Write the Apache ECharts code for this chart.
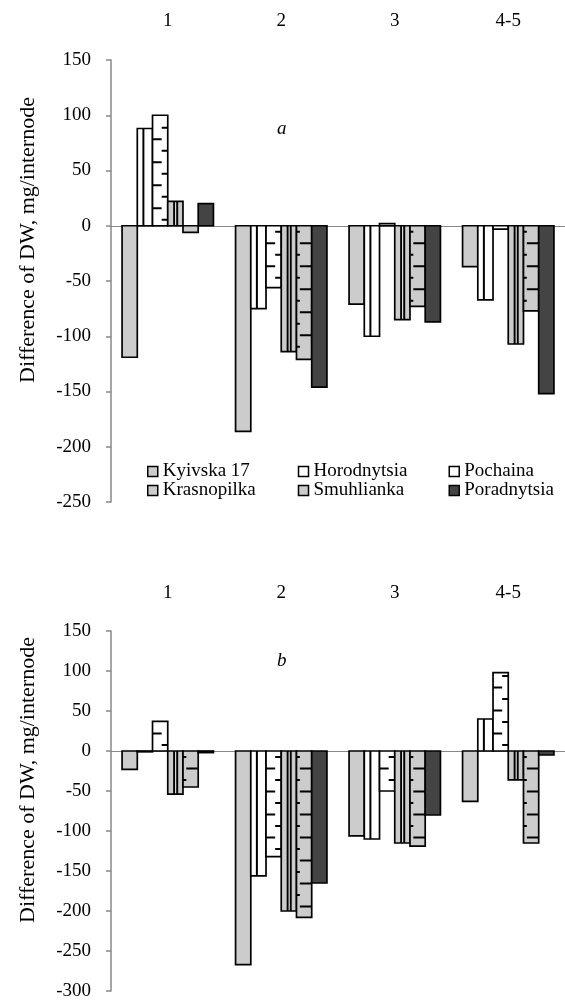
<!DOCTYPE html>
<html>
<head>
<meta charset="utf-8">
<script src="https://cdn.jsdelivr.net/npm/echarts@6/dist/echarts.min.js"></script>
<style>
html, body { margin: 0; padding: 0; background: #fff; }
#container { width: 565px; height: 1001px; }
</style>
</head>
<body>
<div id="container"></div>
<script>
var categories = ['1', '2', '3', '4-5'];
var varieties = ['Kyivska 17', 'Horodnytsia', 'Pochaina', 'Krasnopilka', 'Smuhlianka', 'Poradnytsia'];

// panel a
var kyivskaA = [-119, -186, -71, -37];
var horodnytsiaA = [88, -75, -100, -67];
var pochainaA = [100, -56, 2, -3];
var krasnopilkaA = [22, -114, -85, -107];
var smuhliankaA = [-6, -121, -73, -77];
var poradnytsiaA = [20, -146, -87, -152];

// panel b
var kyivskaB = [-23, -267, -106, -63];
var horodnytsiaB = [-1, -156, -110, 40];
var pochainaB = [37, -132, -50, 98];
var krasnopilkaB = [-54, -200, -115, -36];
var smuhliankaB = [-45, -208, -119, -115];
var poradnytsiaB = [-2, -165, -80, -5];

var yMinA = -250, yMaxA = 150;
var yMinB = -300, yMaxB = 150;
var yStep = 50;

var panels = [
	[kyivskaA, horodnytsiaA, pochainaA, krasnopilkaA, smuhliankaA, poradnytsiaA],
	[kyivskaB, horodnytsiaB, pochainaB, krasnopilkaB, smuhliankaB, poradnytsiaB]
];

var fills = ['#cccccc', '#ffffff', '#ffffff', '#cccccc', '#cccccc', '#444444'];
var font = '"Liberation Serif", "Times New Roman", serif';

function makeRender(k) {
	return function(params, api) {
		var cat = api.value(0), v = api.value(1);
		var band = api.size([1, 0])[0];
		var w = band * 0.805 / 6;
		var base = api.coord([cat, 0]);
		var end = api.coord([cat, v]);
		var x = base[0] - 3 * w + k * w;
		var y0 = base[1], y1 = end[1];
		var top = Math.min(y0, y1), h = Math.abs(y1 - y0);
		var dir = y1 < y0 ? -1 : 1;
		var kids = [{
			type: 'rect',
			shape: { x: x, y: top, width: w, height: h },
			style: { fill: fills[k], stroke: null }
		}];
		function ln(xa, ya, xb, yb) {
			kids.push({
				type: 'line',
				shape: { x1: xa, y1: ya, x2: xb, y2: yb },
				style: { stroke: '#000', lineWidth: 2 }
			});
		}
		if (k === 1 && h > 2) ln(x + w * 0.4, y0, x + w * 0.4, y1);
		if (k === 3 && h > 2) {
			kids.push({
				type: 'rect',
				shape: { x: x + w * 0.42, y: top, width: w * 0.2, height: h },
				style: { fill: '#fff', stroke: null }
			});
			ln(x + w * 0.42, y0, x + w * 0.42, y1);
			ln(x + w * 0.62, y0, x + w * 0.62, y1);
		}
		if (k === 2 || k === 4) {
			for (var d = 6, i = 0; d < h - 2; d += 11.5, i++) {
				var y = y0 + dir * d;
				if (k === 2) {
					if (i % 2 === 0) ln(x + w * 0.6, y, x + w, y);
					else ln(x, y, x + w * 0.6, y);
				} else {
					if (i % 2 === 0) ln(x, y, x + w * 0.22, y);
					else ln(x + w * 0.22, y, x + w, y);
				}
			}
		}
		kids.push({
			type: 'rect',
			shape: { x: x, y: top, width: w, height: h },
			style: { fill: 'none', stroke: '#000', lineWidth: 1.7 }
		});
		return { type: 'group', children: kids };
	};
}

var myChart = echarts.init(document.getElementById('container'));

var grids = [
	{ left: 111, top: 60, width: 458, height: 442 },
	{ left: 111, top: 631, width: 458, height: 360 }
];
var nameShift = [82, 62];

var xAxes = [], yAxes = [], series = [];
for (var g = 0; g < 2; ++g) {
	xAxes.push({
		gridIndex: g,
		type: 'category',
		data: categories,
		position: 'top',
		axisLine: { show: false, onZero: false },
		axisTick: { show: false },
		axisLabel: { margin: g === 0 ? 29 : 28, fontSize: 19, color: '#000', fontFamily: font }
	});
	xAxes.push({
		gridIndex: g,
		type: 'category',
		data: categories,
		axisLine: { show: true, onZero: true, lineStyle: { color: '#888', width: 1 } },
		axisTick: { show: false },
		axisLabel: { show: false }
	});
	yAxes.push({
		gridIndex: g,
		type: 'value',
		min: g === 0 ? yMinA : yMinB,
		max: g === 0 ? yMaxA : yMaxB,
		interval: yStep,
		name: 'Difference of DW, mg/internode',
		nameLocation: 'middle',
		nameGap: 72,
		nameTextStyle: { fontSize: 22, color: '#000', fontFamily: font, padding: [0, 0, 0, nameShift[g]] },
		axisLine: { show: true, lineStyle: { color: '#888', width: 1.5 } },
		axisTick: { show: true, length: 5, lineStyle: { color: '#888', width: 1.5 } },
		splitLine: { show: false },
		axisLabel: { margin: 20, fontSize: 19, color: '#000', fontFamily: font }
	});
	for (var k = 0; k < 6; ++k) {
		series.push({
			type: 'custom',
			name: varieties[k],
			xAxisIndex: g * 2,
			yAxisIndex: g,
			itemStyle: { color: fills[k] },
			renderItem: makeRender(k),
			data: function() {
				var arr = [];
				for (var i = 0; i < categories.length; ++i)
					arr.push([i, panels[g][k][i]]);
				return arr;
			}()
		});
	}
}

var option = {
	animation: false,
	backgroundColor: '#fff',
	title: [
		{ text: 'a', left: 272, top: 114, textStyle: { fontStyle: 'italic', fontWeight: 'normal', fontSize: 19, color: '#000', fontFamily: font } },
		{ text: 'b', left: 272, top: 646, textStyle: { fontStyle: 'italic', fontWeight: 'normal', fontSize: 19, color: '#000', fontFamily: font } }
	],
	legend: {
		data: varieties,
		left: 142,
		top: 457,
		width: 490,
		itemGap: 0,
		itemWidth: 10,
		itemHeight: 10,
		icon: 'rect',
		itemStyle: { borderColor: '#000', borderWidth: 1.5 },
		formatter: '{n|{name}}',
		textStyle: {
			color: '#000',
			fontFamily: font,
			fontSize: 19,
			rich: { n: { width: 135, lineHeight: 21, fontSize: 19, fontFamily: font } }
		}
	},
	grid: grids,
	xAxis: xAxes,
	yAxis: yAxes,
	series: series
};
myChart.setOption(option);
</script>
</body>
</html>
